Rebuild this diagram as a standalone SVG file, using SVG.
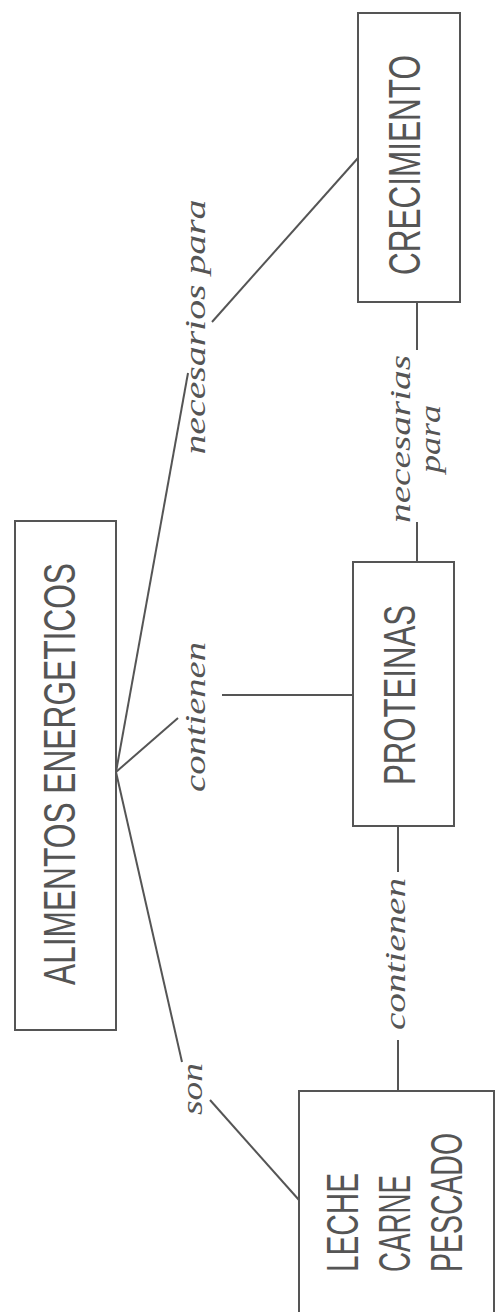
<svg xmlns="http://www.w3.org/2000/svg" width="495" height="1312" viewBox="0 0 495 1312">
<style>
.box{fill:none;stroke:#555;stroke-width:2}
.conn line{stroke:#555;stroke-width:2}
.node{font-family:"Liberation Sans","DejaVu Sans",sans-serif;font-size:38px;fill:#555}
.lbl{font-family:"Liberation Serif","DejaVu Serif",serif;font-style:italic;font-size:30px;fill:#555}
</style>
<rect width="495" height="1312" fill="#fff"/>
<g id="connectors" class="conn">
<line x1="116" y1="772" x2="188" y2="373"/>
<line x1="116" y1="772" x2="178" y2="718"/>
<line x1="116" y1="772" x2="182" y2="1062"/>
<line x1="212" y1="322" x2="358" y2="158"/>
<line x1="222" y1="695" x2="353" y2="695"/>
<line x1="210" y1="1100" x2="299" y2="1200"/>
<line x1="417" y1="302" x2="417" y2="350"/>
<line x1="417" y1="522" x2="417" y2="562"/>
<line x1="398" y1="827" x2="398" y2="872"/>
<line x1="398" y1="1040" x2="398" y2="1091"/>
</g>
<g id="labels">
<text class="lbl" transform="translate(205,327) rotate(-90)" text-anchor="middle" textLength="255" lengthAdjust="spacingAndGlyphs">necesarios para</text>
<text class="lbl" transform="translate(205,717) rotate(-90)" text-anchor="middle" textLength="150" lengthAdjust="spacingAndGlyphs">contienen</text>
<text class="lbl" transform="translate(405,954) rotate(-90)" text-anchor="middle" textLength="152" lengthAdjust="spacingAndGlyphs">contienen</text>
<text class="lbl" transform="translate(202,1089) rotate(-90)" text-anchor="middle" textLength="52" lengthAdjust="spacingAndGlyphs">son</text>
<text class="lbl" transform="translate(410,439) rotate(-90)" text-anchor="middle" textLength="168" lengthAdjust="spacingAndGlyphs">necesarias</text>
<text class="lbl" transform="translate(440,439) rotate(-90)" text-anchor="middle" textLength="68" lengthAdjust="spacingAndGlyphs">para</text>
</g>
<g id="crecimiento">
<rect class="box" x="358" y="13" width="102" height="289"/>
<text class="node" transform="translate(420,165) rotate(-90) scale(1,1.18)" text-anchor="middle" textLength="220" lengthAdjust="spacingAndGlyphs">CRECIMIENTO</text>
</g>
<g id="alimentos">
<rect class="box" x="15" y="521" width="101" height="509"/>
<text class="node" transform="translate(75,774) rotate(-90) scale(1,1.18)" text-anchor="middle" textLength="422" lengthAdjust="spacingAndGlyphs">ALIMENTOS ENERGETICOS</text>
</g>
<g id="proteinas">
<rect class="box" x="353" y="562" width="101" height="264"/>
<text class="node" transform="translate(415,695) rotate(-90) scale(1,1.18)" text-anchor="middle" textLength="180" lengthAdjust="spacingAndGlyphs">PROTEINAS</text>
</g>
<g id="leche">
<path class="box" d="M299,1320 V1091 H494 V1320"/>
<text class="node" transform="translate(358,1272) rotate(-90) scale(1,1.18)" textLength="99" lengthAdjust="spacingAndGlyphs">LECHE</text>
<text class="node" transform="translate(410,1272) rotate(-90) scale(1,1.18)" textLength="97" lengthAdjust="spacingAndGlyphs">CARNE</text>
<text class="node" transform="translate(462,1272) rotate(-90) scale(1,1.18)" textLength="139" lengthAdjust="spacingAndGlyphs">PESCADO</text>
</g>
</svg>
